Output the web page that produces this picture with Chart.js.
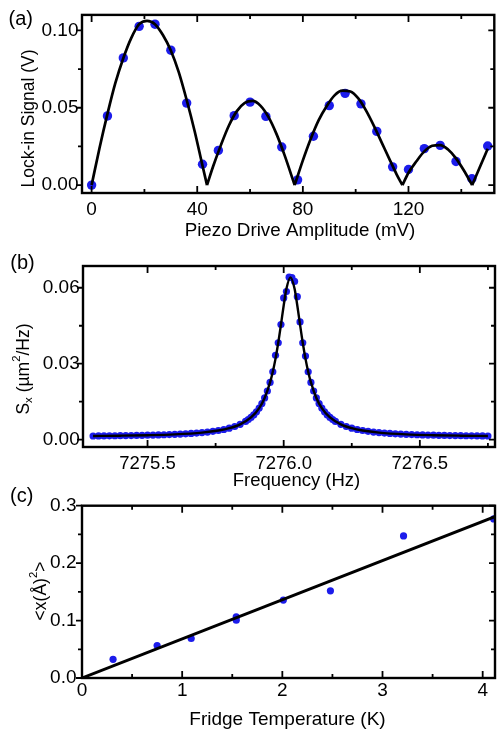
<!DOCTYPE html>
<html>
<head>
<meta charset="utf-8">
<script src="https://cdn.jsdelivr.net/npm/chart.js@4.4.1/dist/chart.umd.min.js"></script>
<style>
  html, body { margin: 0; padding: 0; background: #fff; }
  #wrap { position: relative; width: 499px; height: 731px; overflow: hidden; }
  canvas { position: absolute; left: 0; }
</style>
</head>
<body>
<div id="wrap">
  <canvas id="chartA" width="499" height="245" style="top:0px"></canvas>
  <canvas id="chartB" width="499" height="255" style="top:240px"></canvas>
  <canvas id="chartC" width="499" height="251" style="top:480px"></canvas>
</div>
<script>
// ---- (a) lock-in signal vs piezo drive ----
const driveMV = [0, 6, 12, 18, 24, 30, 36, 42, 48, 54, 60, 66, 72, 78, 84, 90, 96, 102, 108, 114, 120, 126, 132, 138, 144, 150];
const lockinV = [0.000, 0.0447, 0.0822, 0.1026, 0.1040, 0.0872, 0.0530, 0.0135, 0.0224, 0.0449, 0.0536, 0.0444, 0.0246, 0.0034,
                 0.0316, 0.0514, 0.0593, 0.0525, 0.0347, 0.0118, 0.0101, 0.0236, 0.0257, 0.0153, 0.0041, 0.0253];
// fit curve, one arch per lobe (null breaks the line at the cusps)
const fitDriveMV = [0, 3, 6, 9, 12, 15, 18, 21, 24, 27, 30, 33, 36, 39, 42, 43.7, 43.7,
                    43.7, 46, 49, 52, 55, 58, 61, 64, 67, 70, 73, 76.9, 76.9,
                    76.9, 80, 83, 86, 89, 92, 95, 98, 101, 104, 107, 110, 113, 115.5, 117.7, 117.7,
                    117.7, 120, 123, 126, 129, 132, 135, 138, 141, 144.1, 144.1,
                    144.1, 147, 150];
const fitLockinV = [0, 0.024, 0.046, 0.066, 0.082, 0.095, 0.104, 0.1062, 0.104, 0.097, 0.087, 0.073, 0.055, 0.035, 0.0125, 0, null,
                    0, 0.012, 0.026, 0.0385, 0.0478, 0.0532, 0.0544, 0.0512, 0.0439, 0.0331, 0.0197, 0, null,
                    0, 0.016, 0.030, 0.042, 0.051, 0.058, 0.061, 0.0605, 0.056, 0.048, 0.038, 0.027, 0.016, 0.007, 0, null,
                    0, 0.008, 0.0154, 0.0218, 0.0254, 0.0259, 0.0230, 0.0173, 0.0094, 0, null,
                    0, 0.0115, 0.0235];
const xLabelsA = [0, 40, 80, 120];
const yLabelsA = [0, 0.05, 0.10];

// ---- (b) displacement spectrum ----
const freqHz = [7275.30, 7275.32, 7275.34, 7275.36, 7275.38, 7275.40, 7275.42, 7275.44, 7275.46, 7275.48,
                7275.50, 7275.52, 7275.54, 7275.56, 7275.58, 7275.60, 7275.62, 7275.64, 7275.66, 7275.68,
                7275.70, 7275.72, 7275.74, 7275.76, 7275.78, 7275.80, 7275.82, 7275.84, 7275.86,
                7275.87, 7275.88, 7275.89, 7275.90, 7275.91, 7275.92, 7275.93, 7275.94, 7275.95, 7275.96,
                7275.97, 7275.98, 7275.99, 7276.00, 7276.01, 7276.02, 7276.03, 7276.04, 7276.05, 7276.06,
                7276.07, 7276.08, 7276.09, 7276.10, 7276.11, 7276.12, 7276.13, 7276.14, 7276.15, 7276.16,
                7276.17, 7276.18,
                7276.19, 7276.21, 7276.23, 7276.25, 7276.27, 7276.29, 7276.31, 7276.33, 7276.35, 7276.37,
                7276.39, 7276.41, 7276.43, 7276.45, 7276.47, 7276.49, 7276.51, 7276.53, 7276.55, 7276.57,
                7276.59, 7276.61, 7276.63, 7276.65, 7276.67, 7276.69, 7276.71, 7276.73, 7276.75];
const psdUm2 = [0.00145, 0.00147, 0.00149, 0.00151, 0.00154, 0.00157, 0.00160, 0.00163, 0.00167, 0.00171,
                0.00176, 0.00181, 0.00187, 0.00194, 0.00201, 0.00210, 0.00220, 0.00232, 0.00245, 0.00261,
                0.00279, 0.00301, 0.00328, 0.00361, 0.00402, 0.00453, 0.00519, 0.00605, 0.00719,
                0.00792, 0.00877, 0.00979, 0.01101, 0.01248, 0.01428, 0.01648, 0.01922, 0.02261, 0.02683,
                0.03330, 0.03828, 0.04546, 0.05600, 0.05850, 0.06420, 0.06400, 0.06250, 0.05650, 0.04650,
                0.03828, 0.03300, 0.02683, 0.02261, 0.01922, 0.01648, 0.01428, 0.01248, 0.01101, 0.00979,
                0.00877, 0.00792,
                0.00719, 0.00605, 0.00519, 0.00453, 0.00402, 0.00361, 0.00328, 0.00301, 0.00279, 0.00261,
                0.00245, 0.00232, 0.00220, 0.00210, 0.00201, 0.00194, 0.00187, 0.00181, 0.00176, 0.00171,
                0.00167, 0.00163, 0.00160, 0.00157, 0.00154, 0.00151, 0.00149, 0.00147, 0.00145];
const fitFreqHz = [7275.30, 7275.40, 7275.50, 7275.60, 7275.70, 7275.76, 7275.80, 7275.84, 7275.88, 7275.91,
                   7275.93, 7275.95, 7275.96, 7275.97, 7275.98, 7275.99, 7276.00, 7276.01, 7276.025, 7276.04,
                   7276.05, 7276.06, 7276.07, 7276.08, 7276.09, 7276.10, 7276.12, 7276.14, 7276.17, 7276.21,
                   7276.25, 7276.29, 7276.35, 7276.45, 7276.55, 7276.65, 7276.75];
const fitPsdUm2 = [0.00145, 0.00157, 0.00176, 0.00210, 0.00279, 0.00361, 0.00453, 0.00605, 0.00877, 0.01248,
                   0.01648, 0.02261, 0.02683, 0.03202, 0.03828, 0.04546, 0.05298, 0.05959, 0.0641, 0.05959,
                   0.05298, 0.04546, 0.03828, 0.03202, 0.02683, 0.02261, 0.01648, 0.01248, 0.00877, 0.00605,
                   0.00453, 0.00361, 0.00279, 0.00210, 0.00176, 0.00157, 0.00145];
const xLabelsB = [7275.5, 7276.0, 7276.5];
const yLabelsB = [0, 0.03, 0.06];

// ---- (c) mean square displacement vs fridge temperature ----
const fridgeK = [0.31, 0.75, 1.09, 1.54, 1.54, 2.01, 2.48, 3.21, 4.11];
const msdA2 = [0.0326, 0.0565, 0.0688, 0.1065, 0.1007, 0.1356, 0.1518, 0.2473, 0.277];
const fitFridgeK = [0, 4.13];
const fitMsdA2 = [0, 0.2815];
const xLabelsC = [0, 1, 2, 3, 4];
const yLabelsC = [0, 0.1, 0.2, 0.3];

const FONT = "'Liberation Sans', Arial, Helvetica, sans-serif";
const BLUE = 'rgb(28, 28, 235)';
Chart.defaults.font.family = FONT;
Chart.defaults.color = '#000';

function pairs(xs, ys) {
  return xs.map((x, i) => ({ x: x, y: ys[i] }));
}

// label only the listed tick values, minor ticks stay blank
function labeller(list, digits) {
  return function (v) {
    const hit = list.find(l => Math.abs(l - v) < 1e-9);
    return hit === undefined ? '' : hit.toFixed(digits);
  };
}

// frame around the plot plus Igor style ticks (in on x, out on the left)
const frameTicks = {
  id: 'frameTicks',
  afterDatasetsDraw(chart) {
    const { ctx, chartArea: a, scales: { x, y } } = chart;
    ctx.save();
    ctx.strokeStyle = '#000';
    ctx.lineWidth = 1.8;
    ctx.beginPath();
    x.ticks.forEach(t => {
      const px = x.getPixelForValue(t.value);
      const len = t.label ? 7 : 4;
      ctx.moveTo(px, a.bottom); ctx.lineTo(px, a.bottom - len);
      ctx.moveTo(px, a.top); ctx.lineTo(px, a.top + len);
    });
    y.ticks.forEach(t => {
      const py = y.getPixelForValue(t.value);
      const len = t.label ? 6 : 4;
      ctx.moveTo(a.left, py); ctx.lineTo(a.left - len, py);
      ctx.moveTo(a.right, py); ctx.lineTo(a.right - len, py);
    });
    ctx.stroke();
    ctx.lineWidth = 2.4;
    ctx.strokeRect(a.left, a.top, a.right - a.left, a.bottom - a.top);
    ctx.restore();
  }
};

// panel letter, x title and rotated y title (with sub/superscripts)
const panelText = {
  id: 'panelText',
  afterDraw(chart, args, o) {
    const ctx = chart.ctx;
    ctx.save();
    ctx.fillStyle = '#000';
    ctx.textAlign = 'center';
    ctx.textBaseline = 'middle';
    ctx.font = '20px ' + FONT;
    ctx.fillText(o.letter, o.letterX, o.letterY);
    ctx.font = o.xTitleSize + 'px ' + FONT;
    ctx.fillText(o.xTitle, o.xTitleX, o.xTitleY);

    const size = o.titleSize;
    const fontFor = p => ((p.sub || p.sup) ? size * 0.65 : size) + 'px ' + FONT;
    ctx.translate(o.titleX, o.titleY);
    ctx.rotate(-Math.PI / 2);
    ctx.textAlign = 'left';
    let w = 0;
    o.title.forEach(p => { ctx.font = fontFor(p); w += ctx.measureText(p.t).width; });
    let pos = -w / 2;
    o.title.forEach(p => {
      ctx.font = fontFor(p);
      const dy = p.sub ? size * 0.3 : p.sup ? -size * 0.38 : 0;
      ctx.fillText(p.t, pos, dy);
      pos += ctx.measureText(p.t).width;
    });
    ctx.restore();
  }
};

function makePanel(id, p) {
  return new Chart(document.getElementById(id), {
    type: 'scatter',
    data: {
      datasets: [
        {
          data: p.fit,
          showLine: true,
          borderColor: '#000',
          borderWidth: p.lineWidth,
          pointRadius: 0,
          cubicInterpolationMode: 'monotone',
          spanGaps: false
        },
        {
          data: p.points,
          pointRadius: p.dot,
          pointBackgroundColor: BLUE,
          pointBorderWidth: 0,
          borderColor: BLUE
        }
      ]
    },
    options: {
      responsive: false,
      animation: false,
      events: [],
      layout: { padding: { top: p.top, right: 0.5, left: 0, bottom: 0 } },
      plugins: {
        legend: { display: false },
        tooltip: { enabled: false },
        panelText: p.text
      },
      scales: {
        x: {
          type: 'linear',
          min: p.xMin, max: p.xMax,
          afterFit: s => { s.height = p.xHeight; },
          grid: { display: false, drawTicks: false },
          border: { display: false },
          ticks: {
            stepSize: p.xStep, includeBounds: false, autoSkip: false, maxRotation: 0,
            padding: p.xPad, font: { size: p.xFont },
            callback: labeller(p.xLabels, p.xDigits)
          }
        },
        y: {
          min: p.yMin, max: p.yMax,
          afterFit: s => { s.width = p.yWidth; },
          grid: { display: false, drawTicks: false },
          border: { display: false },
          ticks: {
            stepSize: p.yStep, includeBounds: false, autoSkip: false,
            padding: p.yPad, font: { size: 19 },
            callback: labeller(p.yLabels, p.yDigits)
          }
        }
      }
    },
    plugins: [frameTicks, panelText]
  });
}

makePanel('chartA', {
  fit: pairs(fitDriveMV, fitLockinV), points: pairs(driveMV, lockinV),
  lineWidth: 2.7, dot: 4.7, top: 13,
  xMin: -3.64, xMax: 152.5, xStep: 20, xLabels: xLabelsA, xDigits: 0, xHeight: 52, xPad: 5, xFont: 19,
  yMin: -0.0051, yMax: 0.110, yStep: 0.025, yLabels: yLabelsA, yDigits: 2, yWidth: 82, yPad: 3.5,
  text: { letter: '(a)', letterX: 20.8, letterY: 19,
          xTitle: 'Piezo Drive Amplitude (mV)', xTitleX: 300, xTitleY: 231, xTitleSize: 18.8,
          titleX: 29.5, titleY: 118.5, titleSize: 17.5,
          title: [{ t: 'Lock-in Signal (V)' }] }
});

makePanel('chartB', {
  fit: pairs(fitFreqHz, fitPsdUm2), points: pairs(freqHz, psdUm2),
  lineWidth: 2.4, dot: 3.6, top: 26,
  xMin: 7275.263, xMax: 7276.776, xStep: 0.25, xLabels: xLabelsB, xDigits: 1, xHeight: 48, xPad: 6, xFont: 18.5,
  yMin: -0.0029, yMax: 0.0686, yStep: 0.015, yLabels: yLabelsB, yDigits: 2, yWidth: 83, yPad: 3.3,
  text: { letter: '(b)', letterX: 22.5, letterY: 23.3,
          xTitle: 'Frequency (Hz)', xTitleX: 296.5, xTitleY: 241, xTitleSize: 18.5,
          titleX: 24, titleY: 129, titleSize: 17.5,
          title: [{ t: 'S' }, { t: 'x', sub: true }, { t: ' (\u00b5m' }, { t: '2', sup: true }, { t: '/Hz)' }] }
});

makePanel('chartC', {
  fit: pairs(fitFridgeK, fitMsdA2), points: pairs(fridgeK, msdA2),
  lineWidth: 3, dot: 3.6, top: 25.7,
  xMin: 0, xMax: 4.123, xStep: 0.5, xLabels: xLabelsC, xDigits: 0, xHeight: 53, xPad: 1, xFont: 19,
  yMin: 0, yMax: 0.3, yStep: 0.05, yLabels: yLabelsC, yDigits: 1, yWidth: 82, yPad: 5.5,
  text: { letter: '(c)', letterX: 21.7, letterY: 16,
          xTitle: 'Fridge Temperature (K)', xTitleX: 287.5, xTitleY: 240, xTitleSize: 19,
          titleX: 41, titleY: 111, titleSize: 17.5,
          title: [{ t: '<x(\u00c5)' }, { t: '2', sup: true }, { t: '>' }] }
});
</script>
</body>
</html>
